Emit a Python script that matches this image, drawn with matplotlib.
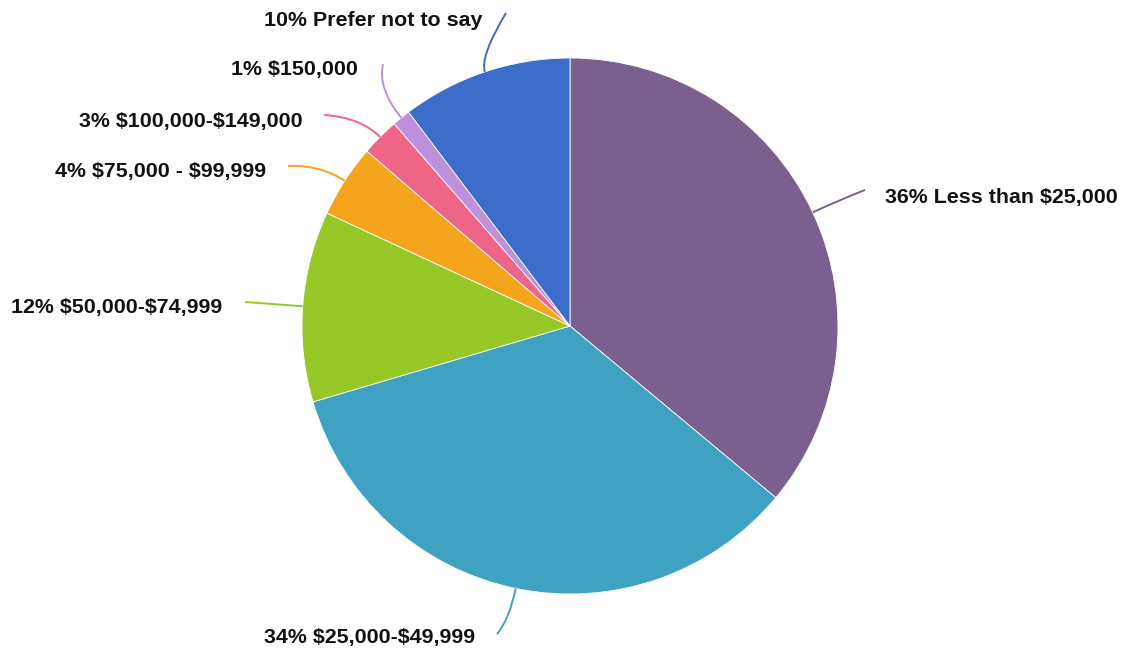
import numpy as np
import matplotlib
matplotlib.use("Agg")
import matplotlib.pyplot as plt
from matplotlib.path import Path
from matplotlib.patches import PathPatch

# slice data, clockwise from 12 o'clock
categories = ["Less than $25,000", "$25,000-$49,999", "$50,000-$74,999",
              "$75,000 - $99,999", "$100,000-$149,000", "$150,000", "Prefer not to say"]
shares = [36.1, 34.4, 11.5, 4.4, 2.3, 1.1, 10.3]
pct_labels = ["36%", "34%", "12%", "4%", "3%", "1%", "10%"]
colors = ["#7B5F8E", "#40A2C2", "#96C928", "#F5A51C", "#EF6587", "#BD91DB", "#3D6DCB"]

# layout (pixel coords, y measured from the top of the image)
W, H = 1124, 654
cx, cy, radius = 570, 326, 268
leader_ends = [(865, 190), (497, 634), (245, 302), (288, 166), (324, 115), (383, 64), (506, 13)]
label_pos = [(885, 197, "left"), (475, 638, "right"), (222, 308, "right"), (266, 172, "right"),
             (303, 122, "right"), (358, 70, "right"), (482, 20, "right")]
ctrl_len = [30, 32, 20, 30, 28, 38, 16]

fig = plt.figure(figsize=(W / 100, H / 100), dpi=100)
ax = fig.add_axes([0, 0, 1, 1])

wedges, _ = ax.pie(shares, colors=colors, startangle=90, counterclock=False,
                   center=(cx, H - cy), radius=radius, frame=True,
                   wedgeprops=dict(edgecolor="white", linewidth=0.6))
ax.set_xlim(0, W)
ax.set_ylim(0, H)
ax.set_aspect("equal")
ax.axis("off")

for w, col, end, lp, cl, pct, cat in zip(wedges, colors, leader_ends, label_pos, ctrl_len,
                                         pct_labels, categories):
    mid = np.deg2rad((w.theta1 + w.theta2) / 2)
    dx, dy = np.cos(mid), np.sin(mid)
    p0 = (cx + radius * dx, H - cy + radius * dy)
    p1 = (p0[0] + cl * dx, p0[1] + cl * dy)
    p2 = (end[0], H - end[1])
    path = Path([p0, p1, p2], [Path.MOVETO, Path.CURVE3, Path.CURVE3])
    ax.add_patch(PathPatch(path, facecolor="none", edgecolor=col, linewidth=1.4))
    ax.text(lp[0], H - lp[1], pct + " " + cat, ha=lp[2], va="center", parse_math=False,
            fontsize=15.4, fontweight="bold", family="Liberation Sans", color="#111111")

fig.savefig("out.png", dpi=100)
